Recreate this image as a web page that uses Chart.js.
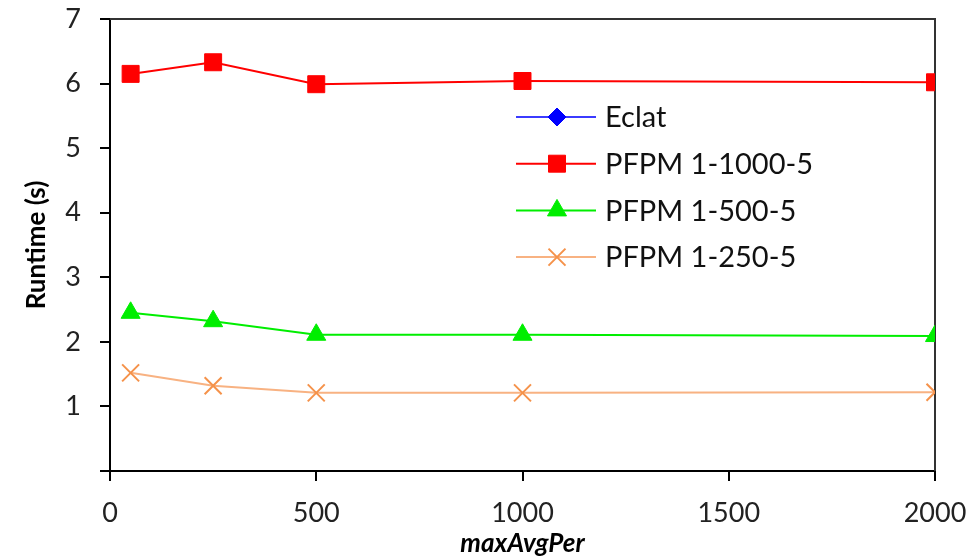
<!DOCTYPE html>
<html>
<head>
<meta charset="utf-8">
<script src="https://cdn.jsdelivr.net/npm/chart.js@4"></script>
<style>
  html, body { margin: 0; padding: 0; background: #fff; }
  #wrap { width: 973px; height: 557px; }
</style>
</head>
<body>
<div id="wrap"><canvas id="runtimeChart"></canvas></div>
<script>
// data
const maxAvgPer = [50, 250, 500, 1000, 2000];
const eclat = [];   // nothing of it shows inside the 0-7 range
const pfpm1000 = [6.15, 6.33, 5.99, 6.04, 6.02];
const pfpm500 = [2.45, 2.32, 2.11, 2.11, 2.09];
const pfpm250 = [1.52, 1.32, 1.21, 1.21, 1.22];
const xTicks = [0, 500, 1000, 1500, 2000];
const yTicks = [0, 1, 2, 3, 4, 5, 6, 7];

const FONT = 'Lato, "Open Sans", sans-serif';

function pts(ys) {
    return ys.map((y, i) => ({ x: maxAvgPer[i], y: y }));
}

// frame on top/right of the plot
const frame = {
    id: 'frame',
    beforeDatasetsDraw(chart) {
        const { ctx, chartArea: a } = chart;
        ctx.save();
        ctx.strokeStyle = '#333';
        ctx.lineWidth = 2;
        ctx.beginPath();
        ctx.moveTo(a.left, a.top);
        ctx.lineTo(a.right, a.top);
        ctx.lineTo(a.right, a.bottom);
        ctx.stroke();
        ctx.restore();
    }
};

// legend sitting inside the plot area
const innerLegend = {
    id: 'innerLegend',
    afterDraw(chart) {
        const ctx = chart.ctx;
        const x0 = 516, x1 = 596, y0 = 117, gap = 46.7;
        ctx.save();
        chart.data.datasets.forEach((ds, i) => {
            const y = y0 + i * gap;
            ctx.strokeStyle = ds.borderColor;
            ctx.lineWidth = 2;
            ctx.beginPath();
            ctx.moveTo(x0, y);
            ctx.lineTo(x1, y);
            ctx.stroke();
            ctx.fillStyle = ds.pointBackgroundColor;
            ctx.strokeStyle = ds.pointBorderColor;
            ctx.lineWidth = ds.pointBorderWidth;
            Chart.helpers.drawPoint(ctx, {
                pointStyle: ds.pointStyle,
                radius: ds.pointRadius,
                rotation: 0,
                borderWidth: ds.pointBorderWidth
            }, (x0 + x1) / 2 + 1, y);
            ctx.fillStyle = '#111';
            ctx.font = '29px ' + FONT;
            ctx.textAlign = 'left';
            ctx.textBaseline = 'middle';
            ctx.fillText(ds.label, 605, y + 1);
        });
        ctx.restore();
    }
};

const ctx = document.getElementById('runtimeChart').getContext('2d');

new Chart(ctx, {
    type: 'line',
    data: {
        datasets: [
            {
                label: 'Eclat',
                data: pts(eclat),
                borderColor: '#3b3bff',
                pointBackgroundColor: '#0000ff',
                pointBorderColor: '#0000ff',
                pointBorderWidth: 1,
                pointStyle: 'rectRot',
                pointRadius: 9
            },
            {
                label: 'PFPM 1-1000-5',
                data: pts(pfpm1000),
                borderColor: '#ff0000',
                pointBackgroundColor: '#ff0000',
                pointBorderColor: '#ff0000',
                pointBorderWidth: 1,
                pointStyle: 'rect',
                pointRadius: 12
            },
            {
                label: 'PFPM 1-500-5',
                data: pts(pfpm500),
                borderColor: '#00ee00',
                pointBackgroundColor: '#00ee00',
                pointBorderColor: '#00ee00',
                pointBorderWidth: 1,
                pointStyle: 'triangle',
                pointRadius: 11
            },
            {
                label: 'PFPM 1-250-5',
                data: pts(pfpm250),
                borderColor: '#f8b282',
                pointBackgroundColor: '#f5924a',
                pointBorderColor: '#f5924a',
                pointBorderWidth: 2,
                pointStyle: 'crossRot',
                pointRadius: 12
            }
        ]
    },
    plugins: [frame, innerLegend],
    options: {
        responsive: true,
        maintainAspectRatio: false,
        animation: false,
        layout: { padding: { top: 19, right: 38, left: 0, bottom: 0 } },
        elements: { line: { borderWidth: 2, tension: 0 } },
        plugins: {
            legend: { display: false },
            tooltip: { enabled: false }
        },
        scales: {
            x: {
                type: 'linear',
                min: 0,
                max: 2000,
                afterBuildTicks: s => { s.ticks = xTicks.map(v => ({ value: v })); },
                afterFit: s => {
                    s.height = 86;
                    s.paddingLeft = 0;
                    s.paddingRight = 0;
                },
                grid: { drawOnChartArea: false, tickLength: 10, color: '#000', lineWidth: 2 },
                border: { color: '#000', width: 2 },
                ticks: {
                    color: '#222',
                    font: { family: FONT, size: 27 },
                    padding: 16,
                    maxRotation: 0,
                    callback: v => String(v)
                },
                title: {
                    display: true,
                    text: 'maxAvgPer',
                    color: '#000',
                    font: { family: FONT, size: 26, weight: 'bold', style: 'italic', lineHeight: 1 },
                    padding: { top: -3, bottom: 0 }
                }
            },
            y: {
                min: 0,
                max: 7,
                afterBuildTicks: s => { s.ticks = yTicks.map(v => ({ value: v })); },
                afterFit: s => {
                    s.width = 110;
                    s.paddingTop = 0;
                    s.paddingBottom = 0;
                },
                grid: { drawOnChartArea: false, tickLength: 10, color: '#000', lineWidth: 2 },
                border: { color: '#000', width: 2 },
                ticks: {
                    color: '#222',
                    font: { family: FONT, size: 27 },
                    padding: 19,
                    callback: v => (v === 0 ? '' : v)
                },
                title: {
                    display: true,
                    text: 'Runtime (s)',
                    color: '#000',
                    font: { family: FONT, size: 26, weight: 'bold', lineHeight: 1 },
                    padding: { top: 24, bottom: 0 }
                }
            }
        }
    }
});
</script>
</body>
</html>
